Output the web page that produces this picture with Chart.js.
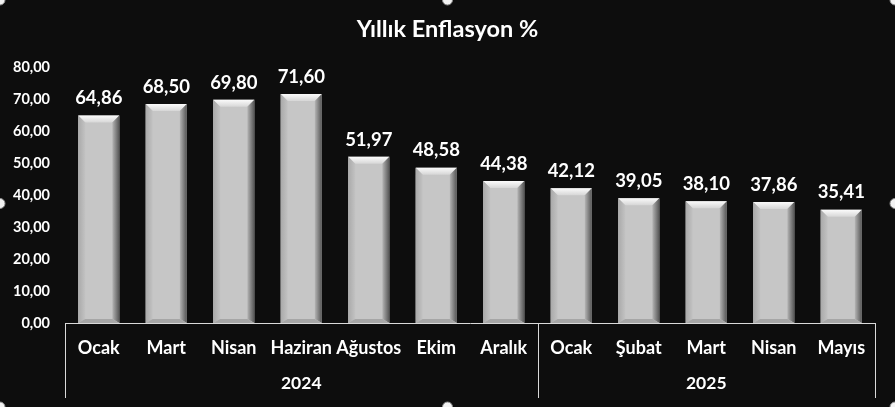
<!DOCTYPE html>
<html>
<head>
<meta charset="utf-8">
<script src="https://cdn.jsdelivr.net/npm/chart.js@4"></script>
<style>
  html, body { margin: 0; padding: 0; background: #0d0d0d; }
  #wrap { width: 895px; height: 407px; }
</style>
</head>
<body>
<div id="wrap"><canvas id="inflationChart" width="895" height="407"></canvas></div>
<script>
// chart data
var months = ["Ocak", "Mart", "Nisan", "Haziran", "Ağustos", "Ekim", "Aralık", "Ocak", "Şubat", "Mart", "Nisan", "Mayıs"];
var inflation = [64.86, 68.50, 69.80, 71.60, 51.97, 48.58, 44.38, 42.12, 39.05, 38.10, 37.86, 35.41];
var years = ["2024", "2025"];
var monthsPerYear = [7, 5];
var yTicks = [0, 10, 20, 30, 40, 50, 60, 70, 80];

var FONT = "Lato, 'Open Sans', sans-serif";

function fmt(v) {
    return v.toFixed(2).replace(".", ",");
}

// dark background
var bgPlugin = {
    id: "bg",
    beforeDraw: function (chart) {
        var c = chart.ctx;
        c.save();
        c.fillStyle = "#0d0d0d";
        c.fillRect(0, 0, chart.width, chart.height);
        c.restore();
    }
};

// bevelled silver look + value labels on top
var bevelPlugin = {
    id: "bevel",
    afterDatasetsDraw: function (chart) {
        var c = chart.ctx;
        var meta = chart.getDatasetMeta(0);
        c.save();
        meta.data.forEach(function (bar, i) {
            var l = bar.x - bar.width / 2, r = bar.x + bar.width / 2;
            var t = bar.y, b = bar.base;
            var bv = 7, bb = 4;

            var g = c.createLinearGradient(0, t, 0, t + bv);
            g.addColorStop(0, "#fbfbfb");
            g.addColorStop(1, "#d6d6d6");
            c.fillStyle = g;
            c.beginPath();
            c.moveTo(l, t); c.lineTo(r, t); c.lineTo(r - bv, t + bv); c.lineTo(l + bv, t + bv);
            c.closePath(); c.fill();

            g = c.createLinearGradient(l, 0, l + bv, 0);
            g.addColorStop(0, "#a9a9a9");
            g.addColorStop(1, "#c2c2c2");
            c.fillStyle = g;
            c.beginPath();
            c.moveTo(l, t); c.lineTo(l + bv, t + bv); c.lineTo(l + bv, b - bb); c.lineTo(l, b);
            c.closePath(); c.fill();

            g = c.createLinearGradient(r - bv, 0, r, 0);
            g.addColorStop(0, "#b4b4b4");
            g.addColorStop(1, "#555555");
            c.fillStyle = g;
            c.beginPath();
            c.moveTo(r, t); c.lineTo(r - bv, t + bv); c.lineTo(r - bv, b - bb); c.lineTo(r, b);
            c.closePath(); c.fill();

            c.fillStyle = "#a6a6a6";
            c.beginPath();
            c.moveTo(l, b); c.lineTo(l + bv, b - bb); c.lineTo(r - bv, b - bb); c.lineTo(r, b);
            c.closePath(); c.fill();

            c.fillStyle = "#ffffff";
            c.font = "bold 18.5px " + FONT;
            c.textAlign = "center";
            c.textBaseline = "bottom";
            c.fillText(fmt(inflation[i]), bar.x, t - 8);
        });
        c.restore();
    }
};

// second level of the x axis: years with separators
var yearPlugin = {
    id: "years",
    afterDraw: function (chart) {
        var c = chart.ctx;
        var xs = chart.scales.x;
        var area = chart.chartArea;
        var bottom = 398;
        var edges = [xs.left];
        var idx = 0;
        monthsPerYear.forEach(function (n) {
            idx += n;
            if (idx < months.length) {
                edges.push((xs.getPixelForValue(idx - 1) + xs.getPixelForValue(idx)) / 2);
            } else {
                edges.push(xs.right);
            }
        });
        c.save();
        c.strokeStyle = "#d9d9d9";
        c.lineWidth = 1;
        edges.forEach(function (x) {
            c.beginPath();
            c.moveTo(Math.round(x) + 0.5, area.bottom);
            c.lineTo(Math.round(x) + 0.5, bottom);
            c.stroke();
        });
        c.fillStyle = "#ffffff";
        c.font = "bold 17.5px " + FONT;
        c.textAlign = "center";
        c.textBaseline = "middle";
        years.forEach(function (y, i) {
            c.fillText(y, (edges[i] + edges[i + 1]) / 2, 383);
        });

        // selection handles around the chart object
        var pts = [[0, 0], [chart.width / 2, 0], [chart.width, 0], [0, chart.height / 2],
                   [chart.width, chart.height / 2], [0, chart.height], [chart.width / 2, chart.height], [chart.width, chart.height]];
        pts.forEach(function (p) {
            c.beginPath();
            c.arc(p[0], p[1], 5, 0, Math.PI * 2);
            c.fillStyle = "#f2f2f2";
            c.fill();
            c.strokeStyle = "#8c8c8c";
            c.stroke();
        });
        c.restore();
    }
};

var config = {
    type: "bar",
    data: {
        labels: months,
        datasets: [{
            label: "Yıllık Enflasyon %",
            data: inflation,
            backgroundColor: "#c6c6c6",
            borderWidth: 0,
            categoryPercentage: 1,
            barPercentage: 0.61
        }]
    },
    options: {
        responsive: false,
        animation: false,
        layout: { padding: 0 },
        plugins: {
            legend: { display: false },
            tooltip: { enabled: false },
            title: {
                display: true,
                text: "Yıllık Enflasyon %",
                color: "#ffffff",
                font: { family: FONT, size: 23.5, weight: "bold" },
                padding: { top: 15, bottom: 24 }
            }
        },
        scales: {
            x: {
                grid: { display: false, drawTicks: false },
                border: { display: true, color: "#d9d9d9", width: 1 },
                ticks: {
                    color: "#ffffff",
                    font: { family: FONT, size: 18, weight: "bold" },
                    padding: 14,
                    maxRotation: 0,
                    autoSkip: false
                },
                afterFit: function (s) { s.height = 84; }
            },
            y: {
                min: 0,
                max: 80,
                grid: { display: false, drawTicks: false },
                border: { display: false },
                afterBuildTicks: function (s) {
                    s.ticks = yTicks.map(function (v) { return { value: v }; });
                },
                ticks: {
                    color: "#ffffff",
                    font: { family: FONT, size: 14.5, weight: "bold" },
                    padding: 15,
                    callback: function (v) { return fmt(v); }
                },
                afterFit: function (s) { s.width = 65; }
            },
            // empty right-hand axis, only reserves the right margin
            yRight: {
                position: "right",
                grid: { display: false, drawTicks: false },
                border: { display: false },
                ticks: { display: false },
                afterFit: function (s) { s.width = 20; }
            }
        }
    },
    plugins: [bgPlugin, bevelPlugin, yearPlugin]
};

var ctx = document.getElementById("inflationChart").getContext("2d");
var chart = new Chart(ctx, config);
</script>
</body>
</html>
